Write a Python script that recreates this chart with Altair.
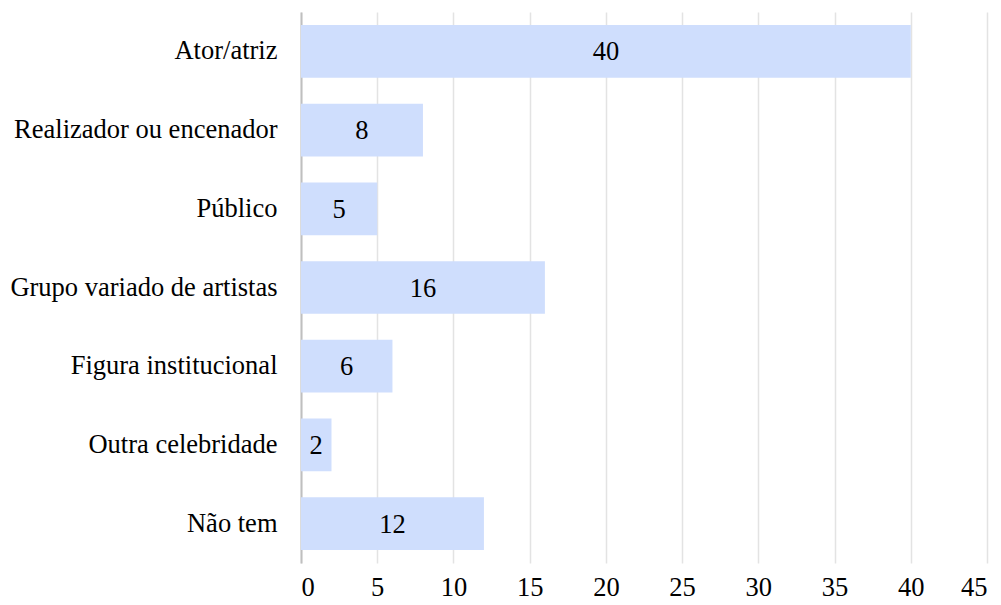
import altair as alt
import pandas as pd

categories = ["Ator/atriz", "Realizador ou encenador", "Público",
              "Grupo variado de artistas", "Figura institucional",
              "Outra celebridade", "Não tem"]
values = [40, 8, 5, 16, 6, 2, 12]
x_ticks = [0, 5, 10, 15, 20, 25, 30, 35, 40, 45]

df = pd.DataFrame({"cat": categories, "val": values})

FONT = "'Liberation Serif', 'Times New Roman', Times, serif"
FS = 26.5

y_enc = alt.Y("cat:N", sort=categories, title=None,
              scale=alt.Scale(paddingInner=0.33, paddingOuter=0.165),
              axis=alt.Axis(labelFont=FONT, labelFontSize=FS, labelColor="#000000",
                            labelPadding=24, ticks=False, domainColor="#bfbfbf",
                            domainWidth=2, labelLimit=400, grid=False))

bars = alt.Chart(df).mark_bar(color="#cfdefd").encode(
    x=alt.X("val:Q", title=None, scale=alt.Scale(domain=[0, 45], nice=False),
            axis=alt.Axis(values=x_ticks, labelFont=FONT, labelFontSize=FS,
                          labelColor="#000000", labelPadding=11, ticks=False,
                          domain=False, grid=True, gridColor="#e3e3e3",
                          gridWidth=1.5)),
    y=y_enc,
)

labels = alt.Chart(df).transform_calculate(mid="datum.val / 2").mark_text(
    font=FONT, fontSize=FS, color="#000000", baseline="middle", align="center", dy=1
).encode(
    x=alt.X("mid:Q"),
    y=alt.Y("cat:N", sort=categories),
    text=alt.Text("val:Q"),
)

chart = alt.layer(bars, labels).properties(
    width=686, height=551,
    padding={"left": 293, "top": 4, "right": 6, "bottom": 38},
    autosize=alt.AutoSizeParams(type="none"),
).configure_view(stroke=None)

chart.save("out.html", embed_options={"renderer": "svg", "actions": False})
